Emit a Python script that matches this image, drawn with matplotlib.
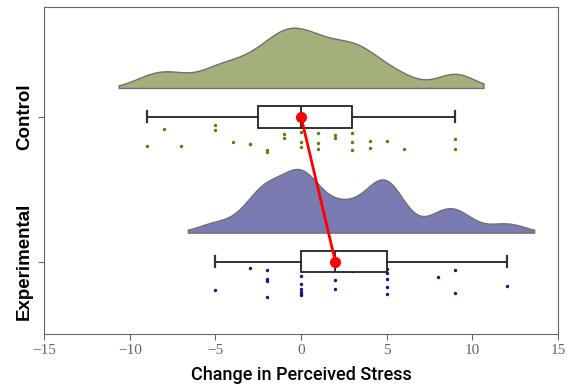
import numpy as np
import matplotlib.pyplot as plt

# dados
groups = ["Control", "Experimental"]
control = [-9, -8, -7, -5, -5, -4, -3, -3, -2, -2, -1, -1, -1, -1, 0, 0, 0,
           1, 1, 1, 2, 2, 3, 3, 3, 4, 4, 5, 6, 9, 9]
control_jit = [0.198, 0.081, 0.200, 0.053, 0.094, 0.174, 0.184, 0.184, 0.228, 0.243,
               0.053, 0.062, 0.117, 0.143, 0.101, 0.174, 0.205, 0.112, 0.181, 0.219,
               0.122, 0.147, 0.112, 0.177, 0.230, 0.170, 0.216, 0.170, 0.219, 0.154, 0.219]
experimental = [-5, -3, -2, -2, -2, -2, 0, 0, 0, 0, 0, 0, 2, 2, 3, 4,
                5, 5, 5, 5, 5, 8, 9, 9, 12]
experimental_jit = [0.195, 0.046, 0.055, 0.119, 0.131, 0.243, 0.099, 0.157, 0.193,
                    0.207, 0.221, 0.234, 0.126, 0.188, 0.062, 0.050, 0.053, 0.076,
                    0.119, 0.174, 0.221, 0.110, 0.060, 0.216, 0.168]

fill_colors = ["#a3b07c", "#7b7bb4"]
dot_colors = ["#5f7d0a", "#12128a"]


def kde(data, factor=0.25, cut=1.5, n=300):
    data = np.asarray(data, float)
    bw = factor * data.std(ddof=1)
    grid = np.linspace(data.min() - cut * bw, data.max() + cut * bw, n)
    dens = np.exp(-0.5 * ((grid[:, None] - data[None, :]) / bw) ** 2).sum(axis=1)
    dens /= len(data) * bw * np.sqrt(2 * np.pi)
    return grid, dens


fig = plt.figure(figsize=(5.67, 3.86), dpi=100)
ax = fig.add_axes([0.078, 0.135, 0.906, 0.847])

datasets = [control, experimental]
jits = [control_jit, experimental_jit]
kdes = [kde(d) for d in datasets]
maxd = max(d.max() for _, d in kdes)
scale = 0.44 / maxd

for i, (data, jit) in enumerate(zip(datasets, jits)):
    grid, dens = kdes[i]
    base = i - 0.2
    ax.fill_between(grid, base, base - dens * scale, color=fill_colors[i],
                    edgecolor="#707070", linewidth=1, zorder=1)
    ax.scatter(data, np.array(jit) + i, s=6, color=dot_colors[i], zorder=2,
               linewidths=0)

bp = ax.boxplot(datasets, positions=[0, 1], vert=False, widths=0.15,
                whis=[0, 100], patch_artist=True, showfliers=False, zorder=3,
                boxprops=dict(facecolor="white", edgecolor="#222222", linewidth=1.3),
                whiskerprops=dict(color="#222222", linewidth=1.3),
                capprops=dict(color="#333333", linewidth=1.6),
                medianprops=dict(color="#222222", linewidth=1.3))

medians = [np.median(d) for d in datasets]
ax.plot(medians, [0, 1], color="red", linewidth=2, marker="o", markersize=7, zorder=4)

ax.set_xlim(-15, 15)
ax.set_ylim(1.5, -0.76)
ax.set_xticks(range(-15, 16, 5))
ax.set_yticks([0, 1])
ax.set_yticklabels(groups, rotation=90, va="center", fontsize=13.5,
                   fontweight="bold", family="Liberation Sans")
for lab in ax.get_xticklabels():
    lab.set_family("Liberation Serif")
    lab.set_fontsize(11)
    lab.set_color("#666666")
ax.set_xlabel("Change in Perceived Stress", family="Roboto", fontweight="medium",
              fontsize=13, labelpad=6)
for sp in ax.spines.values():
    sp.set_color("#666666")
ax.tick_params(axis="both", color="#666666", length=4)
ax.tick_params(axis="y", pad=4)

fig.savefig("out.png", dpi=100)
